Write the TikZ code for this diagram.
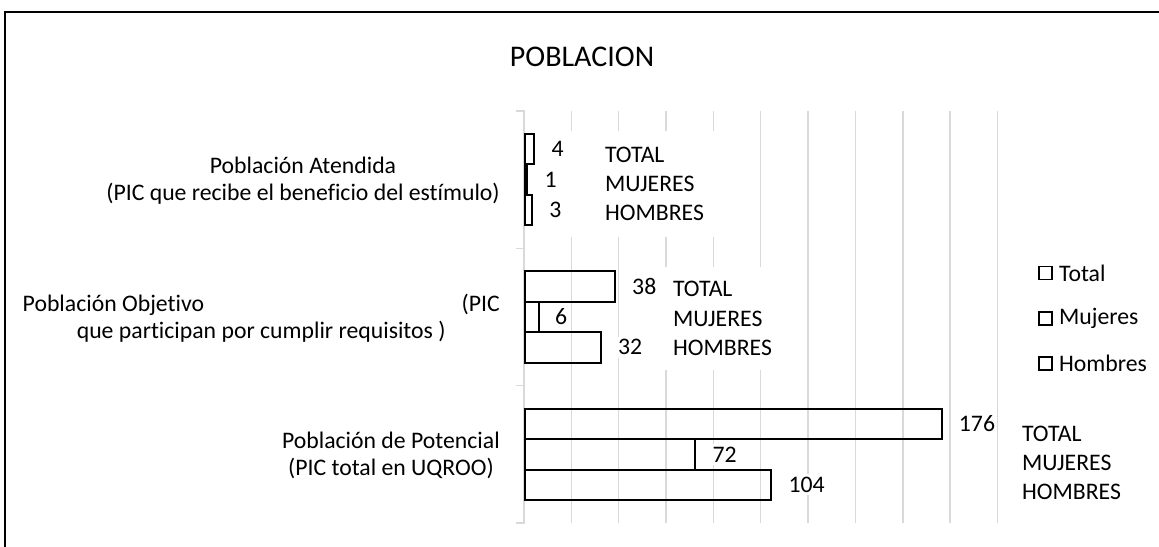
\documentclass[tikz,border=0pt]{standalone}
\usepackage{fontspec}
\setmainfont{Carlito}[Ligatures=NoCommon]
\usetikzlibrary{positioning}

\begin{document}
\begin{tikzpicture}[x=0.75pt,y=-0.75pt,font=\fontsize{17.8}{22}\selectfont,
	bar/.style={draw=black,line width=1.5pt,inner sep=0pt,minimum height=22.9pt,anchor=west},
	num/.style={fill=white,inner xsep=0pt,inner ysep=2pt},
	cats/.style={fill=white,align=left},
	grid/.style={draw=black!15,line width=1.1pt},
	cat/.style={anchor=east,inner sep=0pt,align=center,font=\fontsize{17.8}{20.5}\selectfont},
	legbox/.style={draw=black,line width=1.2pt,minimum size=9.75pt,inner sep=0pt},
	legtext/.style={inner sep=0pt,anchor=west}]
	\useasboundingbox (0,0) rectangle (1159,546);
	\draw[line width=1.6pt] (5,12) rectangle (1185,575);
	\node[font=\fontsize{22.5}{27}\selectfont,name=title] at (582,57) {POBLACION};

	% rejilla y eje
	\draw[grid] (571.35,111) -- (571.35,523) (618.7,111) -- (618.7,523)
		(666.05,111) -- (666.05,523) (713.4,111) -- (713.4,523)
		(760.75,111) -- (760.75,523) (808.1,111) -- (808.1,523)
		(855.45,111) -- (855.45,523) (902.8,111) -- (902.8,523)
		(950.15,111) -- (950.15,523) (997.5,111) -- (997.5,523);
	\draw[grid] (516,111) -- (524,111) -- (524,523) -- (516,523)
		(516,248.3) -- (524,248.3) (516,385.7) -- (524,385.7);

	% barras
	\node[bar,minimum width=7.10pt,name=aTot] at (524,149) {};
	\node[bar,minimum width=1.78pt,name=aMuj] at (524,179.5) {};
	\node[bar,minimum width=5.33pt,name=aHom] at (524,210) {};
	\node[bar,minimum width=67.47pt,name=oTot] at (524,286.3) {};
	\node[bar,minimum width=10.65pt,name=oMuj] at (524,316.8) {};
	\node[bar,minimum width=56.82pt,name=oHom] at (524,347.3) {};
	\node[bar,minimum width=312.5pt,name=pTot] at (524,423.8) {};
	\node[bar,minimum width=127.8pt,name=pMuj] at (524,454.3) {};
	\node[bar,minimum width=184.7pt,name=pHom] at (524,484.8) {};

	% valores
	\node[num,name=naTot,right=12pt of aTot] {4};
	\node[num,name=naMuj,right=12pt of aMuj] {1};
	\node[num,name=naHom,right=12pt of aHom] {3};
	\node[num,name=noTot,right=12pt of oTot] {38};
	\node[num,name=noMuj,right=11pt of oMuj] {6};
	\node[num,name=noHom,right=12pt of oHom] {32};
	\node[num,name=npTot,right=12pt of pTot] {176};
	\node[num,name=npMuj,right=12pt of pMuj] {72};
	\node[num,name=npHom,right=12pt of pHom] {104};

	\node[cats,inner xsep=30pt,inner ysep=11.7pt,name=cA] at (654.5,184) {TOTAL\\MUJERES\\HOMBRES};
	\node[cats,inner xsep=7.5pt,inner ysep=10.5pt,name=cO] at (722.5,318.5) {TOTAL\\MUJERES\\HOMBRES};
	\node[cats,inner sep=3pt,name=cP] at (1071.5,463) {TOTAL\\MUJERES\\HOMBRES};

	% categorias
	\node[cat,name=lA] at (500,180.5) {Población Atendida\\(PIC que recibe el beneficio del estímulo)};
	\node[cat,name=lO] at (500,318) {\makebox[357.75pt]{Población Objetivo\hfill(PIC}\\que participan por cumplir requisitos )};
	\node[cat,name=lP] at (500,455.5) {Población de Potencial\\(PIC total en UQROO)};

	% leyenda
	\node[legbox,name=kTot] at (1045.5,273) {};
	\node[legbox,name=kMuj] at (1045.5,318.5) {};
	\node[legbox,name=kHom] at (1045.5,363.5) {};
	\node[legtext,name=tTot,right=4.5pt of kTot] {Total};
	\node[legtext,name=tMuj,right=4.5pt of kMuj] {Mujeres};
	\node[legtext,name=tHom,right=4.5pt of kHom] {Hombres};
\end{tikzpicture}
\end{document}
